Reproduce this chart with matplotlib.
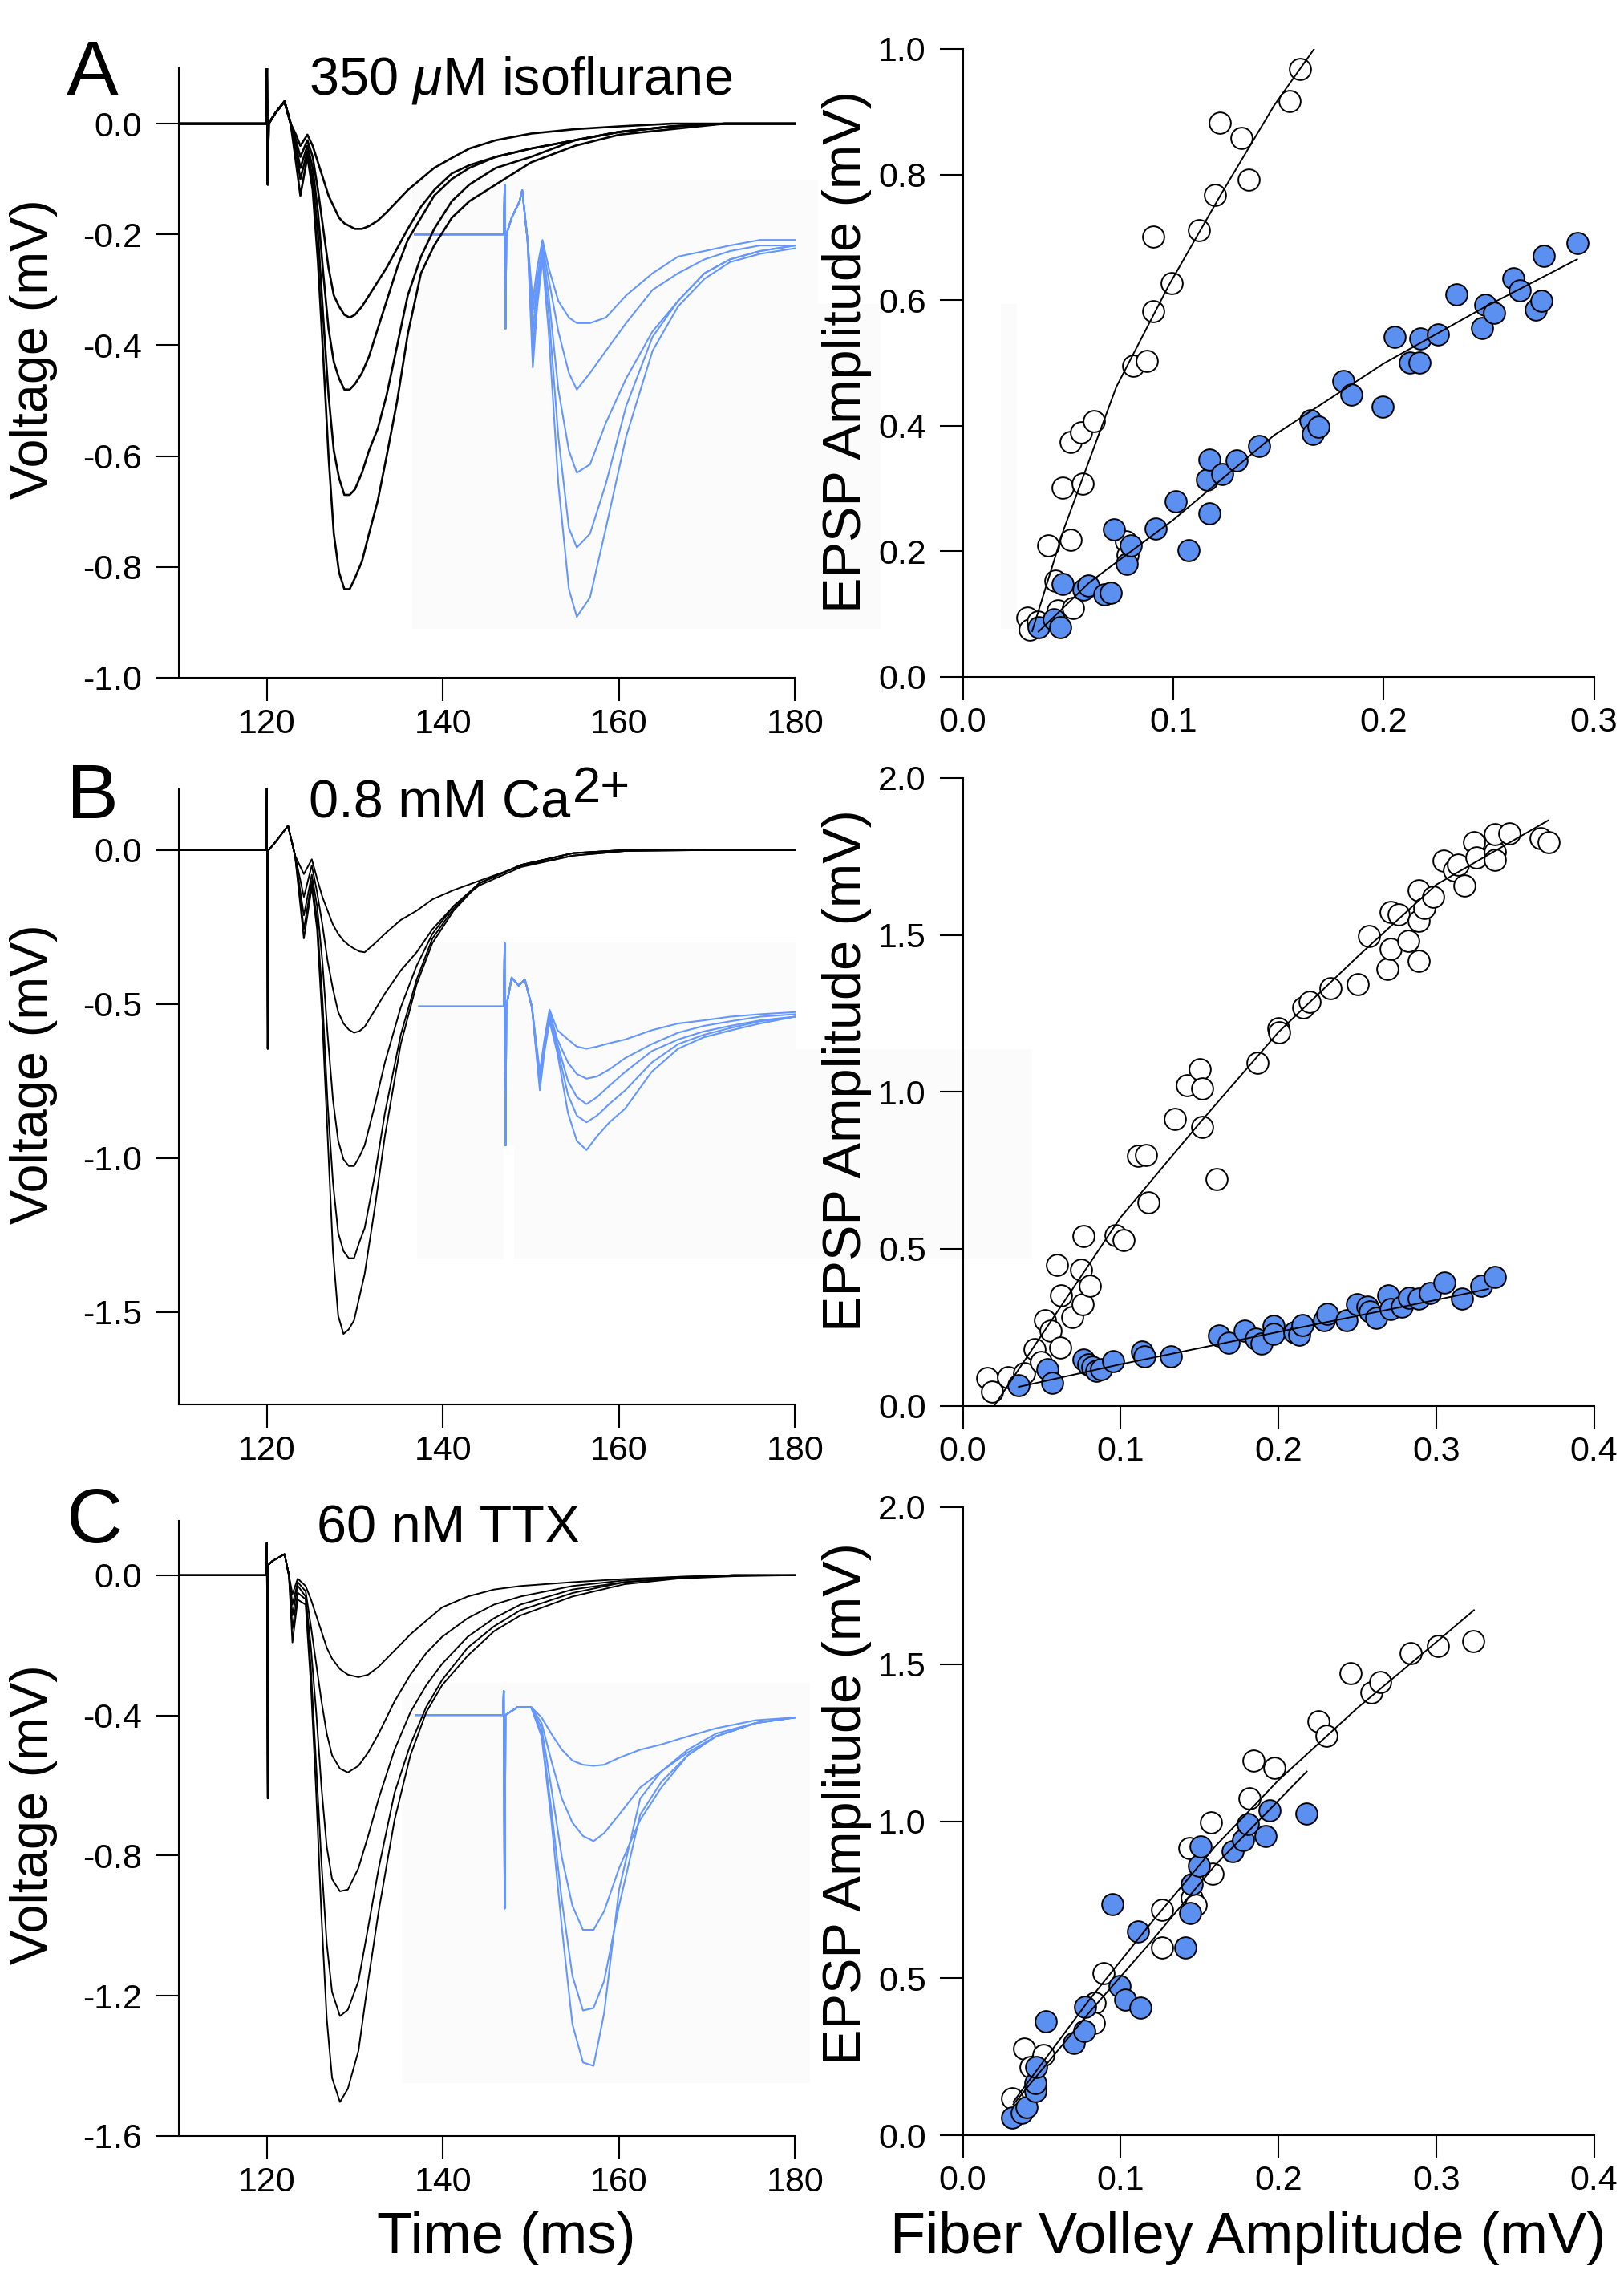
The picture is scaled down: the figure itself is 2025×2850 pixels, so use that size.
import matplotlib
matplotlib.use('Agg')
import matplotlib.pyplot as plt
from matplotlib.patches import Rectangle
from matplotlib.ticker import FormatStrFormatter

plt.rcParams['font.family'] = ['Liberation Sans', 'DejaVu Sans']
plt.rcParams['axes.unicode_minus'] = False
plt.rcParams['mathtext.fontset'] = 'custom'
plt.rcParams['mathtext.rm'] = 'Liberation Sans'
plt.rcParams['mathtext.it'] = 'Liberation Sans:italic'

# ------------------------------------------------------------------ data
# ---- Panel A: voltage traces (ms, mV)
tA = [110.0, 119.9, 120.0, 120.1, 120.2, 121.0, 122.0, 122.7, 123.3, 123.8, 124.6, 125.2,
      125.8, 126.4, 127.0, 127.6, 128.2, 128.8, 129.4, 130.0, 130.8, 131.6, 132.6, 133.6,
      134.8, 136.0, 137.5, 139.0, 141.0, 143.0, 146.0, 150.0, 155.0, 160.0, 166.0, 172.0, 180.0]
A_ctrl_1 = [0, 0, 0.10, -0.11, 0, 0.02, 0.04, 0.0, -0.02, -0.04, -0.02, -0.04, -0.07, -0.10, -0.13,
            -0.15, -0.17, -0.18, -0.185, -0.19, -0.19, -0.185, -0.175, -0.16, -0.14, -0.12, -0.10,
            -0.08, -0.062, -0.045, -0.03, -0.018, -0.01, -0.005, 0, 0, 0]
A_ctrl_2 = [0, 0, 0.10, -0.11, 0, 0.02, 0.04, 0.0, -0.03, -0.06, -0.03, -0.06, -0.12, -0.19, -0.26,
            -0.31, -0.33, -0.345, -0.35, -0.345, -0.33, -0.31, -0.285, -0.26, -0.225, -0.19, -0.15,
            -0.12, -0.09, -0.075, -0.06, -0.045, -0.03, -0.015, -0.005, 0, 0]
A_ctrl_3 = [0, 0, 0.10, -0.11, 0, 0.02, 0.04, 0.0, -0.04, -0.08, -0.04, -0.08, -0.16, -0.27, -0.37,
            -0.43, -0.46, -0.48, -0.48, -0.47, -0.45, -0.42, -0.37, -0.32, -0.26, -0.21, -0.17,
            -0.13, -0.10, -0.08, -0.06, -0.045, -0.03, -0.015, -0.005, 0, 0]
A_ctrl_4 = [0, 0, 0.10, -0.11, 0, 0.02, 0.04, 0.0, -0.05, -0.10, -0.05, -0.10, -0.20, -0.35, -0.49,
            -0.59, -0.64, -0.67, -0.67, -0.66, -0.63, -0.59, -0.55, -0.49, -0.40, -0.31, -0.24,
            -0.19, -0.14, -0.11, -0.08, -0.06, -0.03, -0.015, -0.005, 0, 0]
A_ctrl_5 = [0, 0, 0.10, -0.11, 0, 0.02, 0.04, 0.0, -0.07, -0.13, -0.06, -0.12, -0.25, -0.42, -0.60,
            -0.74, -0.81, -0.84, -0.84, -0.82, -0.79, -0.74, -0.68, -0.60, -0.50, -0.38, -0.27,
            -0.22, -0.17, -0.14, -0.11, -0.07, -0.04, -0.02, -0.01, 0, 0]
tA_drug = [136.8, 146.9, 147.0, 147.1, 147.2, 147.8, 148.7, 149.0, 149.6, 150.2, 150.7, 151.3,
           152.0, 153.1, 154.3, 155.2, 156.7, 158.5, 160.8, 163.8, 166.7, 169.7, 172.6, 176.0, 180.0]
A_drug_1 = [-0.20, -0.20, -0.11, -0.37, -0.20, -0.17, -0.14, -0.12, -0.21, -0.32, -0.26, -0.21, -0.26,
            -0.32, -0.35, -0.36, -0.36, -0.35, -0.31, -0.27, -0.24, -0.23, -0.22, -0.21, -0.21]
A_drug_2 = [-0.20, -0.20, -0.11, -0.37, -0.20, -0.17, -0.14, -0.12, -0.21, -0.34, -0.28, -0.22, -0.28,
            -0.375, -0.45, -0.48, -0.45, -0.41, -0.36, -0.30, -0.27, -0.245, -0.23, -0.22, -0.22]
A_drug_3 = [-0.20, -0.20, -0.11, -0.37, -0.20, -0.17, -0.14, -0.12, -0.21, -0.375, -0.29, -0.225, -0.31,
            -0.48, -0.59, -0.63, -0.615, -0.54, -0.46, -0.375, -0.32, -0.27, -0.245, -0.23, -0.22]
A_drug_4 = [-0.20, -0.20, -0.11, -0.37, -0.20, -0.17, -0.14, -0.12, -0.21, -0.41, -0.31, -0.235, -0.34,
            -0.565, -0.73, -0.765, -0.74, -0.65, -0.51, -0.385, -0.32, -0.27, -0.245, -0.23, -0.22]
A_drug_5 = [-0.20, -0.20, -0.11, -0.37, -0.20, -0.17, -0.14, -0.12, -0.21, -0.44, -0.33, -0.245, -0.375,
            -0.65, -0.84, -0.89, -0.855, -0.73, -0.565, -0.41, -0.33, -0.28, -0.25, -0.235, -0.225]

# ---- Panel B
tB = [110.0, 119.9, 120.0, 120.1, 120.2, 121.0, 122.4, 123.2, 124.2, 125.1, 125.7, 126.3, 126.9,
      127.5, 128.1, 128.7, 129.3, 129.9, 130.5, 131.1, 132.3, 133.4, 135.2, 137.0, 138.8, 141.2,
      144.1, 148.9, 154.8, 160.7, 170.0, 180.0]
B_ctrl_1 = [0, 0, 0.20, -0.645, 0, 0.027, 0.079, -0.018, -0.078, -0.03,
            -0.093, -0.152, -0.197, -0.242, -0.272, -0.294, -0.309, -0.32, -0.329, -0.332, -0.302,
            -0.272, -0.227, -0.197, -0.16, -0.13, -0.10, -0.051, -0.018, -0.003, 0, 0]
B_ctrl_2 = [0, 0, 0.20, -0.645, 0, 0.027, 0.079, -0.018, -0.152, -0.05,
            -0.137, -0.242, -0.361, -0.451, -0.526, -0.563, -0.583, -0.593, -0.588, -0.574, -0.518,
            -0.466, -0.391, -0.332, -0.257, -0.182, -0.115, -0.055, -0.018, -0.003, 0, 0]
B_ctrl_3 = [0, 0, 0.20, -0.645, 0, 0.027, 0.079, -0.018, -0.212, -0.08,
            -0.182, -0.361, -0.60, -0.81, -0.944, -1.004, -1.026, -1.026, -0.996, -0.959, -0.824,
            -0.69, -0.511, -0.376, -0.272, -0.182, -0.108, -0.048, -0.01, 0, 0, 0]
B_ctrl_4 = [0, 0, 0.20, -0.645, 0, 0.027, 0.079, -0.018, -0.257, -0.10,
            -0.227, -0.481, -0.824, -1.078, -1.243, -1.302, -1.325, -1.325, -1.273, -1.228, -1.049,
            -0.854, -0.60, -0.421, -0.287, -0.19, -0.108, -0.048, -0.01, 0, 0, 0]
B_ctrl_5 = [0, 0, 0.20, -0.645, 0, 0.027, 0.079, -0.018, -0.287, -0.12,
            -0.257, -0.556, -0.929, -1.302, -1.512, -1.571, -1.556, -1.527, -1.452, -1.377, -1.153,
            -0.929, -0.63, -0.436, -0.302, -0.197, -0.108, -0.048, -0.01, 0, 0, 0]
tB_drug = [137.3, 146.9, 147.0, 147.1, 147.2, 147.8, 148.6, 149.3, 150.1, 151.0, 151.5, 152.1,
           153.0, 154.2, 155.2, 156.3, 157.5, 158.9, 160.7, 163.7, 166.7, 169.6, 172.6, 176.0, 180.0]
B_drug_1 = [-0.508, -0.508, -0.302, -0.959, -0.508, -0.414, -0.44, -0.42, -0.51,
            -0.72, -0.62, -0.518, -0.585, -0.615, -0.638, -0.645, -0.638, -0.627, -0.615, -0.585,
            -0.563, -0.553, -0.541, -0.533, -0.526]
B_drug_2 = [-0.508, -0.508, -0.302, -0.959, -0.508, -0.414, -0.44, -0.42, -0.51,
            -0.735, -0.63, -0.526, -0.615, -0.69, -0.727, -0.742, -0.735, -0.712, -0.675, -0.63,
            -0.593, -0.571, -0.556, -0.541, -0.533]
B_drug_3 = [-0.508, -0.508, -0.302, -0.959, -0.508, -0.414, -0.44, -0.42, -0.51,
            -0.75, -0.64, -0.533, -0.63, -0.75, -0.802, -0.825, -0.802, -0.765, -0.72, -0.653,
            -0.615, -0.589, -0.571, -0.553, -0.541]
B_drug_4 = [-0.508, -0.508, -0.302, -0.959, -0.508, -0.414, -0.44, -0.42, -0.51,
            -0.765, -0.65, -0.541, -0.645, -0.795, -0.862, -0.884, -0.862, -0.824, -0.78, -0.69,
            -0.63, -0.60, -0.578, -0.556, -0.541]
B_drug_5 = [-0.508, -0.508, -0.302, -0.959, -0.508, -0.414, -0.44, -0.42, -0.51,
            -0.78, -0.66, -0.556, -0.66, -0.854, -0.944, -0.974, -0.929, -0.884, -0.839, -0.72,
            -0.645, -0.608, -0.586, -0.563, -0.541]

# ---- Panel C
tC = [110.0, 119.9, 120.0, 120.1, 120.2, 120.6, 122.0, 122.5, 122.9, 123.5, 124.4, 125.0, 125.6,
      126.2, 126.8, 127.4, 128.3, 129.2, 130.4, 131.5, 132.7, 134.5, 136.3, 138.1, 139.9, 142.8,
      145.8, 148.8, 154.7, 160.6, 166.6, 173.0, 180.0]
C_ctrl_1 = [0, 0, 0.092, -0.637, 0.03, 0.04, 0.06, 0.0, -0.054, -0.01,
            -0.031, -0.069, -0.115, -0.161, -0.207, -0.238, -0.268, -0.284, -0.291, -0.284, -0.261,
            -0.215, -0.169, -0.13, -0.092, -0.061, -0.041, -0.031, -0.02, -0.011, -0.005, 0, 0]
C_ctrl_2 = [0, 0, 0.092, -0.637, 0.03, 0.04, 0.06, 0.0, -0.084, -0.02,
            -0.046, -0.146, -0.253, -0.36, -0.452, -0.514, -0.552, -0.563, -0.544, -0.506, -0.452,
            -0.36, -0.284, -0.222, -0.176, -0.123, -0.084, -0.061, -0.031, -0.015, -0.005, 0, 0]
C_ctrl_3 = [0, 0, 0.092, -0.637, 0.03, 0.04, 0.06, 0.0, -0.115, -0.03,
            -0.061, -0.207, -0.391, -0.606, -0.775, -0.867, -0.902, -0.897, -0.836, -0.744, -0.637,
            -0.498, -0.391, -0.314, -0.253, -0.176, -0.123, -0.084, -0.041, -0.02, -0.008, 0, 0]
C_ctrl_4 = [0, 0, 0.092, -0.637, 0.03, 0.04, 0.06, 0.0, -0.153, -0.05,
            -0.069, -0.268, -0.544, -0.821, -1.051, -1.189, -1.258, -1.24, -1.158, -1.005, -0.836,
            -0.621, -0.483, -0.376, -0.299, -0.207, -0.146, -0.10, -0.051, -0.02, -0.008, 0, 0]
C_ctrl_5 = [0, 0, 0.092, -0.637, 0.03, 0.04, 0.06, 0.0, -0.192, -0.07,
            -0.084, -0.314, -0.621, -0.974, -1.265, -1.434, -1.503, -1.465, -1.357, -1.158, -0.958,
            -0.698, -0.514, -0.391, -0.314, -0.23, -0.16, -0.115, -0.061, -0.026, -0.01, -0.003, 0]
tC_drug = [136.9, 146.8, 146.9, 147.0, 147.1, 148.5, 150.0, 151.2, 152.3, 153.5, 154.7, 155.9,
           157.1, 158.3, 160.0, 162.4, 164.8, 167.8, 171.0, 175.5, 180.0]
C_drug_1 = [-0.399, -0.399, -0.33, -0.951, -0.399, -0.376, -0.376,
            -0.406, -0.452, -0.498, -0.529, -0.541, -0.544, -0.541, -0.521, -0.498, -0.483, -0.46,
            -0.437, -0.414, -0.406]
C_drug_2 = [-0.399, -0.399, -0.33, -0.951, -0.399, -0.376, -0.376,
            -0.422, -0.529, -0.637, -0.706, -0.744, -0.759, -0.736, -0.683, -0.606, -0.56, -0.506,
            -0.46, -0.422, -0.406]
C_drug_3 = [-0.399, -0.399, -0.33, -0.951, -0.399, -0.376, -0.376,
            -0.437, -0.606, -0.805, -0.943, -1.012, -1.012, -0.959, -0.836, -0.698, -0.606, -0.514,
            -0.46, -0.422, -0.406]
C_drug_4 = [-0.399, -0.399, -0.33, -0.951, -0.399, -0.376, -0.376,
            -0.452, -0.667, -0.928, -1.143, -1.242, -1.235, -1.158, -0.943, -0.683, -0.59, -0.514,
            -0.46, -0.422, -0.406]
C_drug_5 = [-0.399, -0.399, -0.33, -0.951, -0.399, -0.376, -0.376,
            -0.46, -0.698, -1.005, -1.281, -1.39, -1.40, -1.25, -0.897, -0.637, -0.56, -0.498,
            -0.452, -0.422, -0.406]

# ---- Scatter: fiber volley vs EPSP amplitude (mV)
A_open_fv = [0.0307, 0.0319, 0.0356, 0.0406, 0.0439, 0.0451, 0.0476, 0.0511, 0.0513, 0.0526, 0.0563,
             0.0568, 0.0623, 0.0775, 0.0785, 0.0810, 0.0875, 0.0905, 0.0905, 0.0992, 0.1124, 0.1199,
             0.1221, 0.1323, 0.1358, 0.1552, 0.1602]
A_open_epsp = [0.094, 0.075, 0.088, 0.209, 0.153, 0.106, 0.302, 0.218, 0.374, 0.110, 0.389, 0.308,
               0.407, 0.216, 0.194, 0.495, 0.503, 0.582, 0.701, 0.627, 0.712, 0.767, 0.882, 0.858,
               0.792, 0.917, 0.968]
A_fill_fv = [0.0361, 0.0431, 0.0463, 0.0476, 0.0573, 0.0598, 0.0673, 0.0705, 0.0718, 0.0780, 0.0797,
             0.0917, 0.1012, 0.1072, 0.1161, 0.1171, 0.1174, 0.1233, 0.1303, 0.1408, 0.1652, 0.1665,
             0.1690, 0.1807, 0.1847, 0.1994, 0.2051, 0.2126, 0.2170, 0.2175, 0.2258, 0.2345, 0.2469,
             0.2482, 0.2524, 0.2616, 0.2649, 0.2724, 0.2749, 0.2761, 0.2923]
A_fill_epsp = [0.079, 0.092, 0.079, 0.148, 0.139, 0.145, 0.131, 0.134, 0.235, 0.180, 0.209, 0.236,
               0.280, 0.202, 0.314, 0.260, 0.346, 0.323, 0.345, 0.368, 0.409, 0.387, 0.398, 0.471,
               0.450, 0.431, 0.541, 0.501, 0.501, 0.539, 0.545, 0.609, 0.555, 0.593, 0.580, 0.635,
               0.616, 0.585, 0.599, 0.671, 0.691]
A_open_fit_fv = [0.033, 0.048, 0.073, 0.098, 0.123, 0.148, 0.167]
A_open_fit_epsp = [0.073, 0.235, 0.462, 0.624, 0.770, 0.910, 1.0]
A_fill_fit_fv = [0.036, 0.06, 0.1, 0.148, 0.2, 0.247, 0.292]
A_fill_fit_epsp = [0.072, 0.15, 0.25, 0.385, 0.499, 0.587, 0.665]

B_open_fv = [0.0156, 0.0183, 0.0289, 0.0389, 0.0455, 0.0498, 0.0522, 0.0555, 0.0598, 0.0615, 0.0621,
             0.0694, 0.0748, 0.0761, 0.0764, 0.0804, 0.0970, 0.1020, 0.1113, 0.1159, 0.1176, 0.1342,
             0.1419, 0.1502, 0.1518, 0.1518, 0.1611, 0.1867, 0.2000, 0.2007, 0.2159, 0.2199, 0.2332,
             0.2505, 0.2575, 0.2691, 0.2714, 0.2714, 0.2764, 0.2824, 0.2887, 0.2887, 0.2887, 0.2924,
             0.2980, 0.3047, 0.3113, 0.3140, 0.3179, 0.3239, 0.3256, 0.3372, 0.3372, 0.3372, 0.3462,
             0.3661, 0.3711]
B_open_epsp = [0.088, 0.044, 0.092, 0.103, 0.180, 0.139, 0.271, 0.239, 0.448, 0.186, 0.352, 0.283,
               0.433, 0.323, 0.540, 0.382, 0.543, 0.528, 0.797, 0.800, 0.649, 0.914, 1.020, 1.071,
               1.010, 0.888, 0.722, 1.093, 1.203, 1.189, 1.269, 1.287, 1.331, 1.343, 1.497, 1.391,
               1.456, 1.573, 1.566, 1.482, 1.416, 1.545, 1.643, 1.585, 1.621, 1.736, 1.707, 1.724,
               1.658, 1.795, 1.746, 1.764, 1.739, 1.822, 1.824, 1.809, 1.795]
B_fill_fv = [0.0355, 0.0538, 0.0565, 0.0764, 0.0797, 0.0821, 0.0844, 0.0877, 0.0953, 0.1136, 0.1153,
             0.1319, 0.1625, 0.1684, 0.1784, 0.1860, 0.1894, 0.1967, 0.1967, 0.2100, 0.2133, 0.2150,
             0.2289, 0.2309, 0.2432, 0.2498, 0.2565, 0.2581, 0.2621, 0.2698, 0.2714, 0.2781, 0.2831,
             0.2887, 0.2963, 0.3053, 0.3163, 0.3286, 0.3372]
B_fill_epsp = [0.066, 0.117, 0.073, 0.147, 0.132, 0.125, 0.110, 0.117, 0.142, 0.172, 0.157, 0.157,
               0.223, 0.201, 0.239, 0.213, 0.198, 0.254, 0.230, 0.235, 0.227, 0.257, 0.271, 0.293,
               0.271, 0.323, 0.315, 0.301, 0.279, 0.352, 0.308, 0.315, 0.345, 0.340, 0.360, 0.392,
               0.342, 0.382, 0.411]
B_open_fit_fv = [0.02, 0.1, 0.15, 0.2, 0.25, 0.3, 0.371]
B_open_fit_epsp = [0.0, 0.60, 0.90, 1.19, 1.43, 1.66, 1.865]
B_fill_fit_fv = [0.0355, 0.1, 0.2, 0.3, 0.333]
B_fill_fit_epsp = [0.06, 0.132, 0.235, 0.337, 0.372]

C_open_fv = [0.0312, 0.0389, 0.0429, 0.0512, 0.0837, 0.0831, 0.0894, 0.1262, 0.1262, 0.1435, 0.1452,
             0.1475, 0.1575, 0.1585, 0.1817, 0.1841, 0.1973, 0.2256, 0.2306, 0.2455, 0.2588, 0.2648,
             0.2841, 0.3013, 0.3236]
C_open_epsp = [0.118, 0.277, 0.217, 0.255, 0.422, 0.358, 0.517, 0.719, 0.597, 0.915, 0.756, 0.734,
               0.996, 0.833, 1.073, 1.192, 1.170, 1.317, 1.273, 1.470, 1.411, 1.444, 1.535, 1.557,
               1.574]
C_fill_fv = [0.0312, 0.0372, 0.0405, 0.0462, 0.0462, 0.0465, 0.0528, 0.0704, 0.0771, 0.0777, 0.0947,
             0.0993, 0.1027, 0.1110, 0.1126, 0.1409, 0.1442, 0.1452, 0.1495, 0.1508, 0.1708, 0.1774,
             0.1807, 0.1917, 0.1944, 0.2176]
C_fill_epsp = [0.055, 0.072, 0.089, 0.140, 0.166, 0.217, 0.363, 0.294, 0.332, 0.409, 0.736, 0.474,
               0.431, 0.648, 0.405, 0.597, 0.708, 0.799, 0.859, 0.919, 0.905, 0.939, 0.992, 0.953,
               1.035, 1.025]
C_open_fit_fv = [0.032, 0.08, 0.12, 0.16, 0.2, 0.25, 0.3, 0.324]
C_open_fit_epsp = [0.106, 0.43, 0.68, 0.92, 1.13, 1.36, 1.57, 1.672]
C_fill_fit_fv = [0.032, 0.08, 0.12, 0.16, 0.218]
C_fill_fit_epsp = [0.098, 0.39, 0.62, 0.86, 1.158]

# tick labels
time_ticks = [120, 140, 160, 180]
A_volt_ticks = [0.0, -0.2, -0.4, -0.6, -0.8, -1.0]
B_volt_ticks = [0.0, -0.5, -1.0, -1.5]
C_volt_ticks = [0.0, -0.4, -0.8, -1.2, -1.6]
A_fv_ticks = [0.0, 0.1, 0.2, 0.3]
BC_fv_ticks = [0.0, 0.1, 0.2, 0.3, 0.4]
A_epsp_ticks = [0.0, 0.2, 0.4, 0.6, 0.8, 1.0]
BC_epsp_ticks = [0.0, 0.5, 1.0, 1.5, 2.0]

panel_letters = ['A', 'B', 'C']
panel_titles = ['350 $\\mathit{\\mu}$M isoflurane', '0.8 mM Ca', '60 nM TTX']
panel_title_sup = ['', '2+', '']

# ------------------------------------------------------------------ style
W, H = 2025, 2850
BLACK = '#000000'
TRACE_BLUE = '#6496ff'
DOT_BLUE = '#5b8ff0'
BOX = '#fbfbfb'
TICK_FS = 31
VLABEL_FS = 46.5
ELABEL_FS = 48
XLABEL_FS = 52
TITLE_FS = 48
LETTER_FS = 70

fig = plt.figure(figsize=(W / 100, H / 100), dpi=100)


def px_axes(x0, y0, x1, y1):
    """axes from pixel box (top-left origin)"""
    return fig.add_axes([x0 / W, 1 - y1 / H, (x1 - x0) / W, (y1 - y0) / H])


def px_box(x0, y0, x1, y1):
    fig.add_artist(Rectangle((x0 / W, 1 - y1 / H), (x1 - x0) / W, (y1 - y0) / H,
                             transform=fig.transFigure, facecolor=BOX, edgecolor='none',
                             zorder=-5))


def style(ax):
    ax.set_facecolor('none')
    for s in ('top', 'right'):
        ax.spines[s].set_visible(False)
    for s in ('left', 'bottom'):
        ax.spines[s].set_linewidth(1.5)
    ax.tick_params(direction='out', length=21, width=1.5, labelsize=TICK_FS)
    ax.tick_params(axis='y', pad=12)
    ax.tick_params(axis='x', pad=6)


# faint background boxes behind the drug traces
px_box(514, 224, 1020, 784)
px_box(1020, 379, 1098, 784)
px_box(1248, 379, 1268, 784)
px_box(520, 1175, 628, 1569)
px_box(641, 1175, 992, 1569)
px_box(628, 1175, 641, 1428)
px_box(670, 1428, 992, 1569)
px_box(992, 1308, 1287, 1569)
px_box(501, 2098, 1010, 2597)

trace_sets = [
    (tA, [A_ctrl_1, A_ctrl_2, A_ctrl_3, A_ctrl_4, A_ctrl_5],
     tA_drug, [A_drug_1, A_drug_2, A_drug_3, A_drug_4, A_drug_5],
     (0.1, -1.0), A_volt_ticks, 1.9),
    (tB, [B_ctrl_1, B_ctrl_2, B_ctrl_3, B_ctrl_4, B_ctrl_5],
     tB_drug, [B_drug_1, B_drug_2, B_drug_3, B_drug_4, B_drug_5],
     (0.2, -1.8), B_volt_ticks, 1.4),
    (tC, [C_ctrl_1, C_ctrl_2, C_ctrl_3, C_ctrl_4, C_ctrl_5],
     tC_drug, [C_drug_1, C_drug_2, C_drug_3, C_drug_4, C_drug_5],
     (0.155, -1.6), C_volt_ticks, 1.4),
]
left_boxes = [(223, 85, 991.5, 845), (223, 983, 991.5, 1751), (223, 1896, 991.5, 2663)]

scatter_sets = [
    (A_open_fv, A_open_epsp, A_fill_fv, A_fill_epsp, A_open_fit_fv, A_open_fit_epsp,
     A_fill_fit_fv, A_fill_fit_epsp, (0, 0.3), (0, 1.0), A_fv_ticks, A_epsp_ticks),
    (B_open_fv, B_open_epsp, B_fill_fv, B_fill_epsp, B_open_fit_fv, B_open_fit_epsp,
     B_fill_fit_fv, B_fill_fit_epsp, (0, 0.4), (0, 2.0), BC_fv_ticks, BC_epsp_ticks),
    (C_open_fv, C_open_epsp, C_fill_fv, C_fill_epsp, C_open_fit_fv, C_open_fit_epsp,
     C_fill_fit_fv, C_fill_fit_epsp, (0, 0.4), (0, 2.0), BC_fv_ticks, BC_epsp_ticks),
]
right_boxes = [(1200.5, 61, 1987.5, 844), (1200.5, 970, 1987.5, 1752.5), (1200.5, 1879, 1987.5, 2662)]

for (t, ctrl, td, drug, ylim, yticks, lw), box in zip(trace_sets, left_boxes):
    ax = px_axes(*box)
    style(ax)
    for v in ctrl:
        ax.plot(t, v, color=BLACK, lw=lw, zorder=3, solid_joinstyle='round')
    for v in drug:
        ax.plot(td, v, color=TRACE_BLUE, lw=1.5, zorder=2, solid_joinstyle='round')
    ax.set_xlim(110, 180)
    ax.set_ylim(ylim[1], ylim[0])
    ax.set_xticks(time_ticks)
    ax.set_yticks(yticks)
    ax.yaxis.set_major_formatter(FormatStrFormatter('%.1f'))
    ax.xaxis.set_major_formatter(FormatStrFormatter('%d'))

for (ofv, oe, ffv, fe, ofitx, ofity, ffitx, ffity, xlim, ylim, xt, yt), box in zip(scatter_sets, right_boxes):
    ax = px_axes(*box)
    style(ax)
    ax.scatter(ofv, oe, s=370, facecolor='white', edgecolor=BLACK, linewidth=1.4,
               zorder=3, clip_on=False)
    ax.scatter(ffv, fe, s=370, facecolor=DOT_BLUE, edgecolor=BLACK, linewidth=1.4,
               zorder=4, clip_on=False)
    ax.plot(ofitx, ofity, color=BLACK, lw=1.4, zorder=5)
    ax.plot(ffitx, ffity, color=BLACK, lw=1.4, zorder=5)
    ax.set_xlim(*xlim)
    ax.set_ylim(*ylim)
    ax.set_xticks(xt)
    ax.set_yticks(yt)
    ax.xaxis.set_major_formatter(FormatStrFormatter('%.1f'))
    ax.yaxis.set_major_formatter(FormatStrFormatter('%.1f'))


def ftext(x, y, s, **kw):
    return fig.text(x / W, 1 - y / H, s, **kw)


renderer = fig.canvas.get_renderer()

# panel letters and titles
for letter, title, sup, (lx, ly), (tx, ty) in zip(panel_letters, panel_titles, panel_title_sup,
                                                  [(83, 118), (83, 1020), (83, 1923)],
                                                  [(385, 118), (385, 1020), (395, 1923)]):
    ftext(lx, ly, letter, fontsize=LETTER_FS, ha='left', va='baseline')
    ttl = ftext(tx, ty, title, fontsize=TITLE_FS, ha='left', va='baseline')
    if sup:
        bb = ttl.get_window_extent(renderer=renderer)
        fig.text(bb.x1 / W + 3 / W, 1 - (ty - 20) / H, sup, fontsize=TITLE_FS * 0.95,
                 ha='left', va='baseline')

# axis labels
for yc in (435, 1339, 2262):
    ftext(42, yc, 'Voltage (mV)', fontsize=VLABEL_FS, rotation=90, ha='center', va='center')
for yc in (439, 1335, 2249):
    ftext(1056, yc, 'EPSP Amplitude (mV)', fontsize=ELABEL_FS, rotation=90, ha='center', va='center')
ftext(631, 2790, 'Time (ms)', fontsize=XLABEL_FS, ha='center', va='center')
ftext(1556, 2790, 'Fiber Volley Amplitude (mV)', fontsize=XLABEL_FS, ha='center', va='center')

fig.savefig('out.png', dpi=100, facecolor='white')
